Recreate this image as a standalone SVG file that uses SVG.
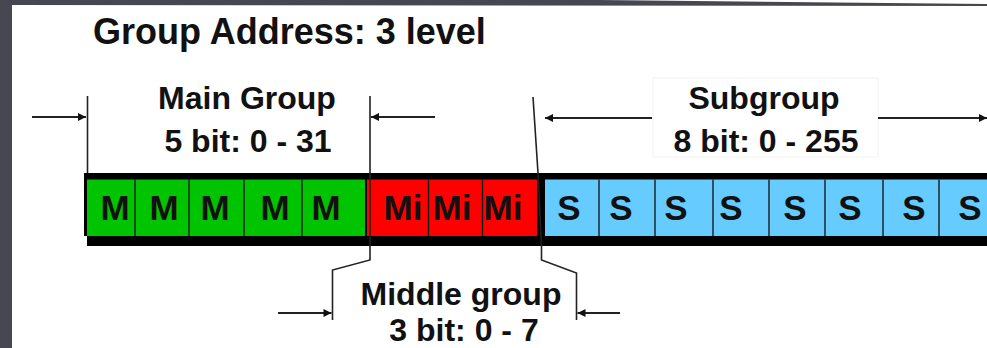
<svg xmlns="http://www.w3.org/2000/svg" width="987" height="348" viewBox="0 0 987 348">
  <style>
    .lbl { font-family: "Liberation Sans", Arial, sans-serif; font-weight: bold; font-size: 32px; fill: #111; text-anchor: middle; }
    .title { font-family: "Liberation Sans", Arial, sans-serif; font-weight: bold; font-size: 36px; fill: #111; }
    .bit { font-family: "Liberation Sans", Arial, sans-serif; font-weight: bold; font-size: 35px; fill: #111; text-anchor: middle; }
    .tick { fill: none; stroke: #222; stroke-width: 1.6; }
    .arrow { fill: none; stroke: #222; stroke-width: 1.8; marker-end: url(#head); }
    .div { stroke: #1a1a1a; stroke-width: 1.4; }
    .m { fill: #00c400; }
    .mi { fill: #ff0000; }
    .s { fill: #66ccff; }
  </style>
  <defs>
    <marker id="head" viewBox="0 0 10 10" refX="10" refY="5" markerWidth="9" markerHeight="8" markerUnits="userSpaceOnUse" orient="auto">
      <path d="M0,0 L10,5 L0,10 z" fill="#111"/>
    </marker>
  </defs>

  <rect width="987" height="348" fill="#ffffff"/>
  <!-- window frame -->
  <rect x="0" y="0" width="12" height="348" fill="#474752"/>
  <polygon points="12,0 600,0 987,4 987,6 12,5" fill="#474752"/>

  <g id="title">
    <text class="title" x="93" y="44">Group Address: 3 level</text>
  </g>

  <g id="main-group-label">
    <text class="lbl" x="247" y="109">Main Group</text>
    <text class="lbl" x="248" y="152">5 bit: 0 - 31</text>
  </g>

  <g id="subgroup-label">
    <rect x="653" y="78" width="225" height="79" fill="none" stroke="#f2f2f2" stroke-width="1"/>
    <text class="lbl" x="764" y="109">Subgroup</text>
    <text class="lbl" x="766" y="152">8 bit: 0 - 255</text>
  </g>

  <g id="middle-group-label">
    <text class="lbl" x="461" y="305">Middle group</text>
    <text class="lbl" x="464" y="341">3 bit: 0 - 7</text>
  </g>

  <g id="bit-field">
    <!-- black frame -->
    <path d="M84,173 H987 V246 H87 V236 H84 Z" fill="#000"/>
    <!-- main group bits -->
    <rect class="m" x="87" y="179.5" width="278" height="56.5"/>
    <line class="div" x1="135" y1="179.5" x2="135" y2="236"/>
    <line class="div" x1="189" y1="179.5" x2="189" y2="236"/>
    <line class="div" x1="244" y1="179.5" x2="244" y2="236"/>
    <line class="div" x1="302" y1="179.5" x2="302" y2="236"/>
    <!-- middle group bits -->
    <rect class="mi" x="367" y="179.5" width="170" height="56.5"/>
    <line class="div" x1="428.5" y1="179.5" x2="428.5" y2="236"/>
    <line class="div" x1="482.5" y1="179.5" x2="482.5" y2="236"/>
    <!-- subgroup bits -->
    <rect class="s" x="545" y="179.5" width="442" height="56.5"/>
    <line class="div" x1="599" y1="179.5" x2="599" y2="236"/>
    <line class="div" x1="655" y1="179.5" x2="655" y2="236"/>
    <line class="div" x1="713" y1="179.5" x2="713" y2="236"/>
    <line class="div" x1="769" y1="179.5" x2="769" y2="236"/>
    <line class="div" x1="825" y1="179.5" x2="825" y2="236"/>
    <line class="div" x1="883" y1="179.5" x2="883" y2="236"/>
    <line class="div" x1="939" y1="179.5" x2="939" y2="236"/>

    <text class="bit" x="115" y="220">M</text>
    <text class="bit" x="164" y="220">M</text>
    <text class="bit" x="215" y="220">M</text>
    <text class="bit" x="275" y="220">M</text>
    <text class="bit" x="326" y="220">M</text>
    <text class="bit" x="403" y="220">Mi</text>
    <text class="bit" x="452" y="220">Mi</text>
    <text class="bit" x="503" y="220">Mi</text>
    <text class="bit" x="569" y="220">S</text>
    <text class="bit" x="621" y="220">S</text>
    <text class="bit" x="676" y="220">S</text>
    <text class="bit" x="731" y="220">S</text>
    <text class="bit" x="795" y="220">S</text>
    <text class="bit" x="850" y="220">S</text>
    <text class="bit" x="914" y="220">S</text>
    <text class="bit" x="970" y="220">S</text>
  </g>

  <g id="connectors">
    <!-- boundary ticks -->
    <line class="tick" x1="87.5" y1="96" x2="87.5" y2="173"/>
    <polyline class="tick" points="370,96 370,260 332.5,270 332.5,320"/>
    <polyline class="tick" points="533,97 538,173 541.5,246 541.5,260 576.5,273 576.5,320"/>
    <!-- main group span -->
    <line class="arrow" x1="32" y1="117" x2="86" y2="117"/>
    <line class="arrow" x1="435" y1="117" x2="371" y2="117"/>
    <!-- subgroup span -->
    <line class="arrow" x1="652" y1="118" x2="545" y2="118"/>
    <line class="arrow" x1="878" y1="118" x2="987" y2="118"/>
    <!-- middle group span -->
    <line class="arrow" x1="278" y1="313" x2="331.5" y2="313"/>
    <line class="arrow" x1="620" y1="313" x2="577.5" y2="313"/>
  </g>
</svg>
